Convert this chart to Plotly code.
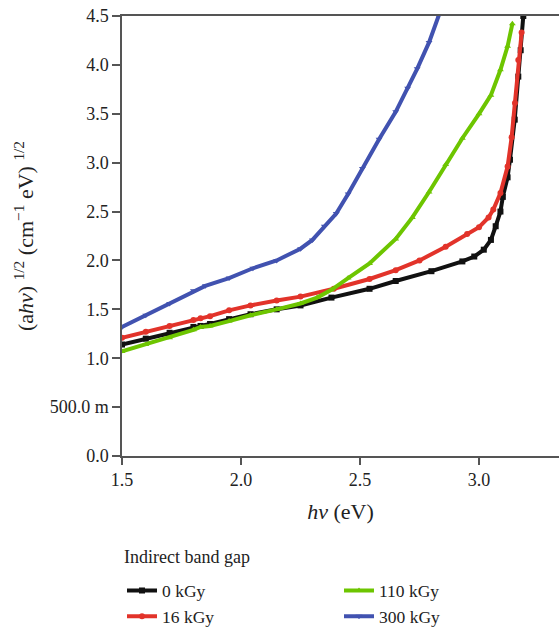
import plotly.graph_objects as go

# Photon energy (eV) and (alpha*h*nu)^(1/2) for each irradiation dose
x_0kgy = [1.50, 1.60, 1.70, 1.80, 1.83, 1.87, 1.95, 2.04, 2.15, 2.25, 2.38, 2.54, 2.65,
          2.80, 2.93, 2.98, 3.02, 3.05, 3.07, 3.09, 3.10, 3.12, 3.13, 3.15, 3.165, 3.175, 3.186]
y_0kgy = [1.14, 1.20, 1.26, 1.32, 1.33, 1.35, 1.40, 1.45, 1.50, 1.54, 1.62, 1.71, 1.79,
          1.89, 1.99, 2.04, 2.11, 2.21, 2.35, 2.50, 2.65, 2.85, 3.03, 3.44, 3.88, 4.15, 4.50]

x_16kgy = [1.50, 1.60, 1.70, 1.80, 1.83, 1.87, 1.95, 2.04, 2.15, 2.25, 2.39, 2.54, 2.65,
           2.75, 2.86, 2.95, 3.00, 3.04, 3.06, 3.09, 3.12, 3.137, 3.151, 3.165, 3.179]
y_16kgy = [1.21, 1.27, 1.33, 1.39, 1.41, 1.43, 1.49, 1.54, 1.59, 1.63, 1.71, 1.81, 1.90,
           2.00, 2.14, 2.27, 2.34, 2.44, 2.52, 2.69, 2.96, 3.26, 3.61, 4.05, 4.33]

x_110kgy = [1.50, 1.60, 1.70, 1.80, 1.83, 1.87, 1.95, 2.04, 2.15, 2.25, 2.32, 2.38, 2.45,
            2.54, 2.65, 2.72, 2.79, 2.86, 2.93, 3.00, 3.05, 3.09, 3.12, 3.14]
y_110kgy = [1.07, 1.14, 1.21, 1.29, 1.32, 1.33, 1.38, 1.44, 1.50, 1.56, 1.62, 1.70, 1.82,
            1.97, 2.22, 2.44, 2.70, 2.98, 3.25, 3.50, 3.69, 3.95, 4.19, 4.42]

x_300kgy = [1.50, 1.60, 1.70, 1.80, 1.85, 1.95, 2.05, 2.15, 2.25, 2.30, 2.35, 2.40, 2.45,
            2.51, 2.58, 2.65, 2.70, 2.74, 2.79, 2.83]
y_300kgy = [1.32, 1.44, 1.56, 1.69, 1.74, 1.82, 1.92, 2.00, 2.12, 2.21, 2.35, 2.48, 2.68,
            2.94, 3.24, 3.52, 3.76, 3.96, 4.23, 4.50]

y_ticks = [0.0, 0.5, 1.0, 1.5, 2.0, 2.5, 3.0, 3.5, 4.0, 4.5]
y_tick_text = ["0.0", "500.0 m", "1.0", "1.5", "2.0", "2.5", "3.0", "3.5", "4.0", "4.5"]
x_ticks = [1.5, 2.0, 2.5, 3.0]
x_tick_text = ["1.5", "2.0", "2.5", "3.0"]

FONT = "Liberation Serif"
AXIS = "#555555"
TEXT = "#222222"

series = [
    # name, x, y, colour, symbol, legend rank
    ("0 kGy", x_0kgy, y_0kgy, "#111111", "square", 1),
    ("16 kGy", x_16kgy, y_16kgy, "#E2332A", "circle", 3),
    ("110 kGy", x_110kgy, y_110kgy, "#6DC500", "triangle-up", 2),
    ("300 kGy", x_300kgy, y_300kgy, "#4152B0", "triangle-down", 4),
]

fig = go.Figure()
for name, xs, ys, colour, symbol, rank in series:
    fig.add_trace(go.Scatter(
        x=xs, y=ys, name=name, mode="lines+markers",
        line=dict(color=colour, width=4),
        marker=dict(color=colour, symbol=symbol, size=6),
        legendrank=rank,
    ))

# Heading above the legend entries
fig.add_annotation(
    text="Indirect band gap", xref="paper", yref="paper",
    x=0, y=-0.229, xanchor="left", yanchor="middle", showarrow=False,
    font=dict(family=FONT, size=18, color=TEXT),
)

fig.update_layout(
    width=559, height=630,
    margin=dict(l=122, r=0, t=16, b=174, autoexpand=False),
    paper_bgcolor="white", plot_bgcolor="white",
    font=dict(family=FONT, size=18, color=TEXT),
    showlegend=True,
    legend=dict(
        orientation="h", x=0, xanchor="left", y=-0.265, yanchor="top",
        entrywidth=172, entrywidthmode="pixels",
        font=dict(size=17.5), tracegroupgap=0,
    ),
    xaxis=dict(
        range=[1.5, 3.336], showgrid=False, zeroline=False,
        showline=True, linecolor=AXIS, linewidth=1.5, mirror=True,
        ticks="outside", ticklen=7, tickwidth=1.5, tickcolor=AXIS,
        tickvals=x_ticks, ticktext=x_tick_text,
        title=dict(text="<i>hν</i> (eV)", standoff=14),
    ),
    yaxis=dict(
        range=[0, 4.5], showgrid=False, zeroline=False,
        showline=True, linecolor=AXIS, linewidth=1.5,
        ticks="outside", ticklen=8, tickwidth=1.5, tickcolor=AXIS,
        tickvals=y_ticks, ticktext=y_tick_text,
        title=dict(text="(a<i>hν</i>) <sup>1/2</sup> (cm<sup>−1</sup> eV) <sup>1/2</sup>",
                   standoff=10),
    ),
)

fig.write_html("out.html")
